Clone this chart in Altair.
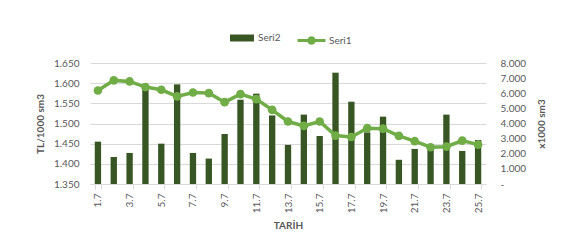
import altair as alt
import pandas as pd

dates = ["1.7", "2.7", "3.7", "4.7", "5.7", "6.7", "7.7", "8.7", "9.7", "10.7",
         "11.7", "12.7", "13.7", "14.7", "15.7", "16.7", "17.7", "18.7", "19.7",
         "20.7", "21.7", "22.7", "23.7", "24.7", "25.7"]
seri2 = [1455, 1417, 1427, 1586, 1450, 1597, 1427, 1413, 1474, 1559,
         1574, 1520, 1447, 1522, 1469, 1626, 1554, 1478, 1517, 1410,
         1437, 1446, 1522, 1432, 1459]
seri1 = [6180, 6850, 6780, 6410, 6230, 5790, 6050, 6010, 5410, 5940,
         5610, 4900, 4130, 3840, 4130, 3200, 3110, 3690, 3660, 3180,
         2830, 2430, 2470, 2870, 2600]
left_ticks = [1350, 1400, 1450, 1500, 1550, 1600, 1650]
right_ticks = [0, 1000, 2000, 3000, 4000, 5000, 6000, 7000, 8000]
x_labels = dates[::2]

df = pd.DataFrame({"date": dates, "seri2": seri2, "seri1": seri1,
                   "n2": ["Seri2"] * len(dates), "n1": ["Seri1"] * len(dates)})

DARK = "#375623"
GREEN = "#70AD47"
GRAY = "#595959"
FONT = "Lato"

xenc = alt.X("date:N", sort=dates, title="TARİH",
             scale=alt.Scale(paddingInner=0.6, paddingOuter=0.3),
             axis=alt.Axis(values=x_labels, labelAngle=-90, labelAlign="right",
                           labelBaseline="middle", labelPadding=4,
                           tickBand="extent", ticks=True, tickSize=5, tickColor="#d9d9d9",
                           domainColor="#d9d9d9", grid=False,
                           labelColor=GRAY, labelFont=FONT, labelFontSize=10,
                           titleColor=GRAY, titleFont=FONT, titleFontSize=10,
                           titleFontWeight="bold", titlePadding=8))

bars = alt.Chart(df).mark_bar(clip=True).encode(
    x=xenc,
    y=alt.Y("seri2:Q", title="TL/1000 sm3",
            scale=alt.Scale(domain=[1350, 1650], zero=False, nice=False),
            axis=alt.Axis(orient="left", values=left_ticks, grid=True, gridColor="#d9d9d9",
                          domain=False, ticks=False, labelPadding=11, labelOverlap=False,
                          labelExpr="replace(format(datum.value, ','), ',', '.')",
                          labelColor=GRAY, labelFont=FONT, labelFontSize=10,
                          titleColor=GRAY, titleFont=FONT, titleFontSize=10,
                          titleFontWeight="bold", titlePadding=8)),
    y2=alt.datum(1350),
    fill=alt.Fill("n2:N", scale=alt.Scale(domain=["Seri2"], range=[DARK]),
                  legend=alt.Legend(orient="none", legendX=140, legendY=-37, title=None,
                                    direction="horizontal", padding=0,
                                    symbolType="M-1,-0.29H1V0.29H-1Z", symbolSize=576,
                                    symbolStrokeWidth=0, labelOffset=4,
                                    labelFont=FONT, labelFontSize=10, labelColor=GRAY)),
)

yright = alt.Y("seri1:Q", title="x1000 sm3",
               scale=alt.Scale(domain=[0, 8000], nice=False),
               axis=alt.Axis(orient="right", values=right_ticks, grid=False,
                             domain=False, ticks=False, labelPadding=14, labelOverlap=False,
                             labelExpr="datum.value == 0 ? '-' : replace(format(datum.value, ','), ',', '.')",
                             labelColor=GRAY, labelFont=FONT, labelFontSize=10,
                             titleColor=GRAY, titleFont=FONT, titleFontSize=10,
                             titleFontWeight="bold", titlePadding=21, titleAngle=270))

line = alt.Chart(df).mark_line(strokeWidth=3.5).encode(
    x=alt.X("date:N", sort=dates),
    y=yright,
    stroke=alt.Stroke("n1:N", scale=alt.Scale(domain=["Seri1"], range=[GREEN]),
                      legend=alt.Legend(orient="none", legendX=206, legendY=-38, title=None,
                                        direction="horizontal", padding=0,
                                        symbolType="M-1,0L1,0M-0.2,0A0.2,0.2,0,1,0,0.2,0A0.2,0.2,0,1,0,-0.2,0Z",
                                        symbolSize=784, symbolStrokeWidth=3,
                                        symbolFillColor=GREEN, labelOffset=2,
                                        labelFont=FONT, labelFontSize=10, labelColor=GRAY)),
)
points = alt.Chart(df).mark_circle(size=75, color=GREEN, opacity=1).encode(
    x=alt.X("date:N", sort=dates),
    y=yright,
)

chart = alt.layer(bars, alt.layer(line, points)).resolve_scale(
    y="independent", fill="independent", stroke="independent"
).properties(
    width=396, height=121,
    autosize=alt.AutoSizeParams(type="none"),
    padding={"left": 90, "top": 63, "right": 85, "bottom": 57},
    background="white",
).configure_view(stroke=None)

chart.save("out.html", embed_options={"renderer": "svg", "actions": False})
